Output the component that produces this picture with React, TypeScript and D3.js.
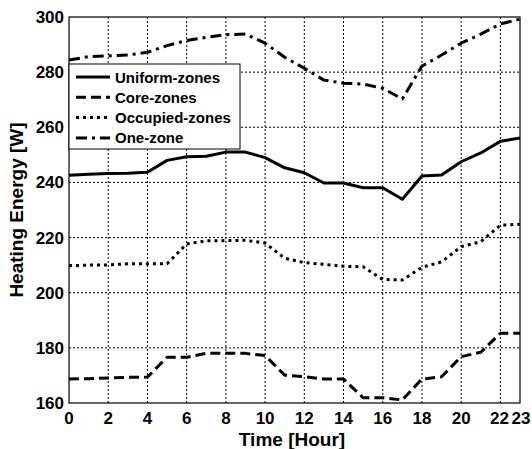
import React from "react";
import * as d3 from "d3";

const hours = d3.range(0, 24);
const uniformZones = [242.6, 243, 243.2, 243.3, 243.7, 248, 249.3, 249.5, 251, 251, 249, 245.3, 243.5, 239.8, 239.8, 238.1, 238.1, 233.9, 242.3, 242.7, 247.5, 250.7, 254.9, 256.1];
const coreZones = [168.7, 168.8, 169.1, 169.3, 169.4, 176.6, 176.6, 178, 178, 178, 177.2, 170.1, 169.5, 168.7, 168.7, 161.9, 161.9, 161.1, 168.7, 169.5, 176.8, 178.4, 185.3, 185.3];
const occupiedZones = [209.8, 210, 210.1, 210.5, 210.5, 210.5, 217.7, 218.8, 218.9, 219, 218, 212.5, 210.9, 210.3, 209.6, 209.4, 204.8, 204.6, 209.2, 211.2, 216.7, 218.5, 224.5, 224.8];
const oneZone = [284.4, 285.6, 285.9, 286.2, 287.2, 289.6, 291.5, 292.6, 293.6, 293.8, 290.5, 285.4, 281.4, 277.1, 276, 275.7, 274.1, 270.3, 282.2, 286.2, 290.5, 293.8, 297.5, 299.2];
const xTicks = [0, 2, 4, 6, 8, 10, 12, 14, 16, 18, 20, 22, 23];
const yTicks = [160, 180, 200, 220, 240, 260, 280, 300];
const seriesNames = ["Uniform-zones", "Core-zones", "Occupied-zones", "One-zone"];

const W = 532, H = 449;
const L = 69, R = 520, T = 17, B = 403;

export default function App() {
  const x = d3.scaleLinear().domain([0, 23]).range([L, R]);
  const y = d3.scaleLinear().domain([160, 300]).range([B, T]);
  const line = d3.line<number>().x((_, i) => x(hours[i])).y((d) => y(d));
  const series = [
    { name: seriesNames[0], data: uniformZones, dash: "none" },
    { name: seriesNames[1], data: coreZones, dash: "10,5" },
    { name: seriesNames[2], data: occupiedZones, dash: "3,4" },
    { name: seriesNames[3], data: oneZone, dash: "11,5,3,5" },
  ];
  const font = "'Liberation Sans', Arial, sans-serif";
  return (
    <svg width={W} height={H} style={{ position: "absolute", left: 0, top: 0, background: "#fff" }} fontFamily={font}>
      <rect x={0} y={0} width={W} height={H} fill="#fff" />
      {/* grid */}
      {xTicks.filter((t) => t !== 0 && t !== 23).map((t) => (
        <line key={"gx" + t} x1={x(t)} x2={x(t)} y1={T} y2={B} stroke="#000" strokeWidth={1} strokeDasharray="2,2" />
      ))}
      {yTicks.filter((t) => t !== 160 && t !== 300).map((t) => (
        <line key={"gy" + t} x1={L} x2={R} y1={y(t)} y2={y(t)} stroke="#000" strokeWidth={1} strokeDasharray="2,2" />
      ))}
      {/* lines */}
      {series.map((s) => (
        <path key={s.name} d={line(s.data) || ""} fill="none" stroke="#000" strokeWidth={3} strokeDasharray={s.dash} strokeLinejoin="round" />
      ))}
      {/* axes box */}
      <rect x={L} y={T} width={R - L} height={B - T} fill="none" stroke="#000" strokeWidth={1.2} />
      {/* tick labels */}
      {xTicks.map((t) => (
        <text key={"tx" + t} x={x(t) + (t === 22 ? -1 : t === 23 ? 1 : 0)} y={424} textAnchor="middle" fontSize={17} fontWeight="bold">
          {t}
        </text>
      ))}
      {yTicks.map((t) => (
        <text key={"ty" + t} x={64} y={y(t) + 6} textAnchor="end" fontSize={17} fontWeight="bold">
          {t}
        </text>
      ))}
      {/* axis labels */}
      <text x={292} y={446} textAnchor="middle" fontSize={19} fontWeight="bold">Time [Hour]</text>
      <text transform={`translate(23,${(T + B) / 2}) rotate(-90)`} textAnchor="middle" fontSize={19} fontWeight="bold">
        Heating Energy [W]
      </text>
      {/* legend */}
      <rect x={L} y={64} width={171} height={85} fill="#fff" stroke="#000" strokeWidth={1} />
      {series.map((s, i) => (
        <g key={"lg" + s.name} transform={`translate(0,${77 + i * 20.3})`}>
          <line x1={76} x2={110} y1={0} y2={0} stroke="#000" strokeWidth={3} strokeDasharray={s.dash} />
          <text x={115} y={5.5} fontSize={15} fontWeight="bold">{s.name}</text>
        </g>
      ))}
    </svg>
  );
}
